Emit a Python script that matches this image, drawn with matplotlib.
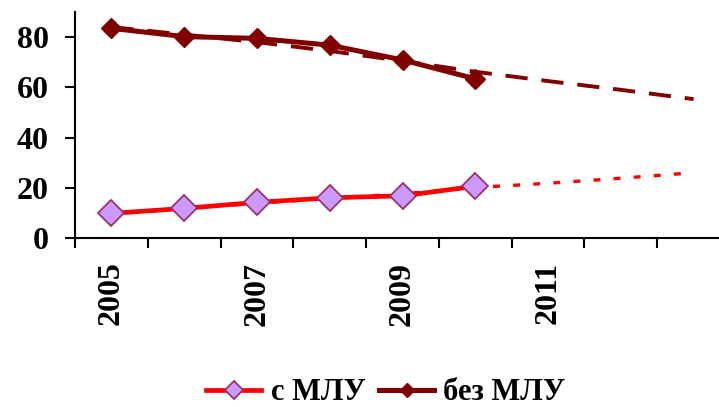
import matplotlib
matplotlib.use("Agg")
import matplotlib.pyplot as plt

plt.rcParams['font.family'] = ['Liberation Serif', 'DejaVu Serif']
plt.rcParams['font.weight'] = 'bold'
plt.rcParams['lines.scale_dashes'] = False

# categories (last three are forecast periods of the trend lines)
years = ["2005", "2006", "2007", "2008", "2009", "2010", "2011", "2012", "2013"]
shown_labels = ["2005", "", "2007", "", "2009", "", "2011", "", ""]

with_mdr = [9.8, 11.8, 14.2, 16.0, 16.8, 20.6]          # с МЛУ
without_mdr = [83.5, 80.2, 79.5, 76.8, 70.9, 63.4]      # без МЛУ

trend_with = [9.6, 11.8, 13.8, 15.8, 17.6, 20.1, 21.8, 23.8, 26.0]
trend_without = [84.0, 81.0, 78.0, 74.5, 70.5, 66.2, 62.5, 59.0, 55.3]

x_all = list(range(len(years)))
x_obs = x_all[:len(with_mdr)]

fig = plt.figure(figsize=(7.19, 4.07), dpi=100)
ax = fig.add_axes([75 / 719, 169 / 407, 655 / 719, 226 / 407])

# trend lines
ax.plot(x_all, trend_without, color="#800000", lw=2.8, dashes=(16, 10), zorder=2)
ax.plot(x_all, trend_with, color="#FF0000", lw=2.4, dashes=(5, 9.5), zorder=2)

# observed series
ax.plot(x_obs, with_mdr, color="#FF0000", lw=3.4, marker="D", ms=13.5,
        mfc="#CC99FF", mec="#993366", mew=1.3, label="с МЛУ", zorder=3)
ax.plot(x_obs, without_mdr, color="#800000", lw=3.6, marker="D", ms=10,
        mfc="#800000", mec="#800000", label="без МЛУ", zorder=3)

ax.set_xlim(-0.5, len(years) - 0.5)
ax.set_ylim(0, 90)
ax.set_yticks([0, 20, 40, 60, 80])

ax.set_xticks(x_all)
ax.set_xticklabels(shown_labels, rotation=90, fontsize=23, fontweight="bold")
ax.set_xticks([i - 0.5 for i in range(len(years) + 1)], minor=True)
ax.tick_params(axis="x", which="major", length=0, pad=17)
ax.tick_params(axis="x", which="minor", length=7, width=1.5, direction="out")
ax.tick_params(axis="y", length=7, width=1.5, pad=12, labelsize=23)
for lbl in ax.get_yticklabels():
    lbl.set_fontweight("bold")

for side in ["top", "right"]:
    ax.spines[side].set_visible(False)
for side in ["left", "bottom"]:
    ax.spines[side].set_linewidth(1.5)

h, l = ax.get_legend_handles_labels()
fig.legend(h, l, loc="center", bbox_to_anchor=(386 / 719, 14 / 407), ncol=2,
           frameon=False, prop={"size": 22, "weight": "bold"},
           handlelength=1.8, handletextpad=0.3, columnspacing=0.45,
           markerscale=0.7, borderpad=0.2)

fig.savefig("out.png", dpi=100)
